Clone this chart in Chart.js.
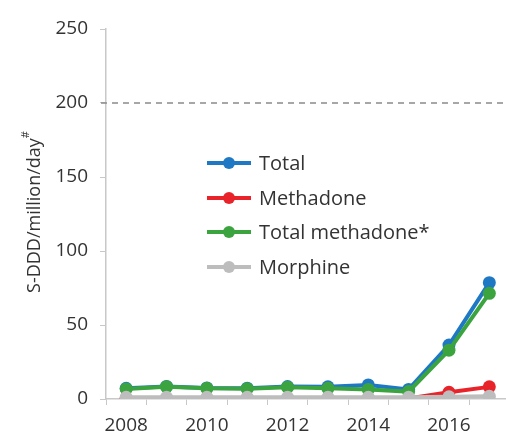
<!DOCTYPE html>
<html>
<head>
<meta charset="utf-8">
<script src="https://cdn.jsdelivr.net/npm/chart.js@4"></script>
<style>
  html, body { margin: 0; padding: 0; background: #fff; overflow: hidden; }
  #wrap { width: 516px; height: 432px; position: relative; }
</style>
</head>
<body>
<div id="wrap"><canvas id="myCanvas"></canvas></div>
<script>
let years = ["2008", "2009", "2010", "2011", "2012", "2013", "2014", "2015", "2016", "2017"];
let total = [7.2, 8.5, 7.5, 7.3, 8.4, 8.2, 9.5, 6.5, 36.5, 78.6];
let methadone = [0, 0, 0, 0, 0, 0, 0, 0.3, 4.5, 8.2];
let totalMethadone = [6.8, 8.3, 7.2, 7.0, 8.0, 7.2, 6.5, 5.0, 33, 71.4];
let morphine = [1.2, 1.2, 1.2, 1.2, 1.2, 1.2, 1.2, 1.2, 1.5, 1.8];
let yTicks = [0, 50, 100, 150, 200, 250];
let refLine = 200;

let colors = ["#1f78c4", "#e8232a", "#3ba43f", "#bdbdbd"];
let fontFamily = "'Open Sans', 'DejaVu Sans', sans-serif";

function ds(label, data, color, order) {
  return {
    label: label,
    data: data,
    borderColor: color,
    backgroundColor: color,
    pointBackgroundColor: color,
    pointBorderWidth: 0,
    pointRadius: 6.5,
    borderWidth: 4,
    tension: 0,
    order: order,
  };
}

// dashed line, custom legend and y title with superscript
let extras = {
  id: "extras",
  beforeDatasetsDraw(chart) {
    let ctx = chart.ctx;
    let y = chart.scales.y.getPixelForValue(refLine);
    ctx.save();
    ctx.strokeStyle = "#8a8a8a";
    ctx.lineWidth = 1.5;
    ctx.setLineDash([6, 5]);
    ctx.beginPath();
    ctx.moveTo(chart.chartArea.left - 5, y);
    ctx.lineTo(chart.chartArea.right, y);
    ctx.stroke();
    ctx.restore();
  },
  afterDraw(chart) {
    let ctx = chart.ctx;
    ctx.save();
    // legend
    let items = chart.data.datasets;
    let x0 = 207, x1 = 251, tx = 259, ys = [163, 198, 232, 267];
    ctx.font = "20px " + fontFamily;
    ctx.textBaseline = "middle";
    items.forEach(function (d, i) {
      let yy = ys[i];
      ctx.strokeStyle = d.borderColor;
      ctx.lineWidth = 4;
      ctx.beginPath();
      ctx.moveTo(x0, yy);
      ctx.lineTo(x1, yy);
      ctx.stroke();
      ctx.fillStyle = d.borderColor;
      ctx.beginPath();
      ctx.arc((x0 + x1) / 2, yy, 6, 0, Math.PI * 2);
      ctx.fill();
      ctx.fillStyle = "#333";
      ctx.fillText(d.label, tx, yy + 1);
    });
    // y title
    ctx.translate(29, 212);
    ctx.rotate(-Math.PI / 2);
    ctx.fillStyle = "#333";
    ctx.font = "18px " + fontFamily;
    let main = "S-DDD/million/day";
    let w = ctx.measureText(main).width;
    ctx.font = "11px " + fontFamily;
    let w2 = ctx.measureText("#").width;
    let start = -(w + w2) / 2;
    ctx.font = "18px " + fontFamily;
    ctx.textAlign = "left";
    ctx.fillText(main, start, 6);
    ctx.font = "11px " + fontFamily;
    ctx.fillText("#", start + w, -3);
    ctx.restore();
  },
};

let myCanvas = document.getElementById("myCanvas").getContext("2d");
let chart = new Chart(myCanvas, {
  type: "line",
  data: {
    labels: years,
    datasets: [
      ds("Total", total, colors[0], 3),
      ds("Methadone", methadone, colors[1], 2),
      ds("Total methadone*", totalMethadone, colors[2], 1),
      ds("Morphine", morphine, colors[3], 0),
    ],
  },
  options: {
    responsive: true,
    maintainAspectRatio: false,
    animation: false,
    layout: { padding: { top: 29, right: 2, left: 0, bottom: 0 } },
    plugins: {
      legend: { display: false },
      tooltip: { enabled: false },
    },
    scales: {
      x: {
        type: "category",
        offset: true,
        grid: {
          offset: true,
          drawOnChartArea: false,
          drawTicks: true,
          tickLength: 6,
          color: "#c8c8c8",
        },
        border: { color: "#c8c8c8", width: 1.5 },
        ticks: {
          autoSkip: false,
          maxRotation: 0,
          padding: 9,
          color: "#333",
          font: { size: 19, family: fontFamily },
          callback: function (value, index) {
            let lab = this.getLabelForValue(value);
            return index % 2 === 0 ? lab : "";
          },
        },
        afterFit: function (scale) {
          scale.height = 33;
        },
      },
      y: {
        min: 0,
        max: 250,
        afterBuildTicks: function (scale) {
          scale.ticks = yTicks.map(function (v) { return { value: v }; });
        },
        grid: {
          drawOnChartArea: false,
          drawTicks: true,
          tickLength: 6,
          color: "#c8c8c8",
        },
        border: { color: "#c8c8c8", width: 1.5 },
        ticks: {
          padding: 12,
          color: "#333",
          font: { size: 19, family: fontFamily },
        },
        afterFit: function (scale) {
          scale.width = 106;
        },
      },
    },
  },
  plugins: [extras],
});
</script>
</body>
</html>
